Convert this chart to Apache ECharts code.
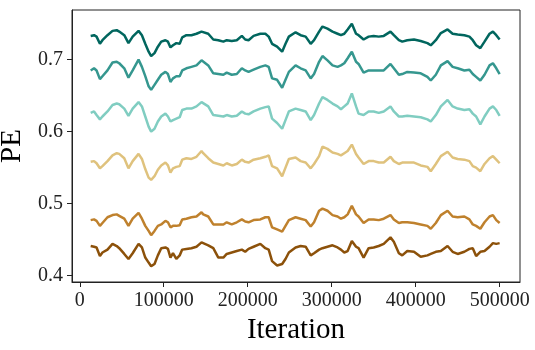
<!DOCTYPE html>
<html>
<head>
<meta charset="utf-8">
<script src="https://cdn.jsdelivr.net/npm/echarts@6/dist/echarts.min.js"></script>
<style>
  html, body { margin: 0; padding: 0; background: #fff; }
  #chart { width: 535px; height: 350px; }
</style>
</head>
<body>
<div id="chart"></div>
<script>
// iteration positions (shared by all traces)
const iterations = [
  13000, 17000, 20000, 24000, 27000, 33000, 39000, 44000, 47000, 53000,
  58000, 63000, 70000, 74000, 78000, 82000, 85000, 89000, 93000, 97000,
  102000, 105000, 108000, 111000, 115000, 119000, 122000, 127000, 133000, 139000,
  145000, 147000, 153000, 159000, 165000, 171000, 175000, 181000, 187000, 193000,
  197000, 201000, 207000, 215000, 221000, 225000, 229000, 235000, 241000, 245000,
  249000,
  257000, 263000, 269000, 275000, 279000, 285000, 289000, 295000, 301000, 307000,
  311000, 315000, 319000, 324000, 329000, 332000, 338000, 344000, 350000, 356000,
  362000, 370000, 374000, 380000, 384000, 390000, 398000, 406000, 414000, 418000,
  424000, 430000, 438000, 444000, 450000, 458000, 464000, 468000, 472000, 477000,
  482000, 488000, 492000, 496000, 500000
];

const pe1 = [
  0.733, 0.734, 0.732, 0.722, 0.727, 0.734, 0.740, 0.741, 0.739, 0.734,
  0.723, 0.732, 0.740, 0.734, 0.722, 0.711, 0.705, 0.709, 0.718, 0.725,
  0.727, 0.725, 0.717, 0.720, 0.723, 0.722, 0.731, 0.734, 0.734, 0.736,
  0.739, 0.741, 0.736, 0.728, 0.727, 0.725, 0.727, 0.726, 0.727, 0.733,
  0.728, 0.727, 0.733, 0.736, 0.736, 0.732, 0.722, 0.718, 0.711, 0.722,
  0.732,
  0.738, 0.734, 0.732, 0.722, 0.727, 0.739, 0.746, 0.743, 0.739, 0.736,
  0.734, 0.736, 0.742, 0.750, 0.736, 0.734, 0.728, 0.732, 0.733, 0.732,
  0.733, 0.739, 0.734, 0.727, 0.725, 0.727, 0.728, 0.726, 0.723, 0.720,
  0.727, 0.737, 0.742, 0.736, 0.735, 0.734, 0.732, 0.727, 0.720, 0.716,
  0.725, 0.736, 0.739, 0.734, 0.728
];

const pe2 = [
  0.685, 0.688, 0.685, 0.673, 0.677, 0.685, 0.696, 0.697, 0.695, 0.688,
  0.675, 0.685, 0.700, 0.690, 0.677, 0.663, 0.658, 0.665, 0.672, 0.679,
  0.683, 0.680, 0.669, 0.674, 0.677, 0.677, 0.685, 0.688, 0.690, 0.692,
  0.699, 0.697, 0.692, 0.681, 0.680, 0.679, 0.682, 0.679, 0.680, 0.688,
  0.685, 0.683, 0.686, 0.690, 0.692, 0.690, 0.674, 0.672, 0.661, 0.672,
  0.683,
  0.692, 0.688, 0.685, 0.674, 0.680, 0.697, 0.705, 0.699, 0.692, 0.690,
  0.692, 0.695, 0.702, 0.711, 0.697, 0.694, 0.682, 0.685, 0.685, 0.685,
  0.685, 0.694, 0.688, 0.679, 0.680, 0.683, 0.682, 0.681, 0.676, 0.671,
  0.679, 0.692, 0.698, 0.690, 0.688, 0.685, 0.686, 0.680, 0.676, 0.671,
  0.679, 0.692, 0.695, 0.688, 0.680
];

const pe3 = [
  0.626, 0.628, 0.623, 0.617, 0.621, 0.628, 0.637, 0.639, 0.638, 0.632,
  0.622, 0.632, 0.641, 0.635, 0.621, 0.607, 0.600, 0.604, 0.614, 0.621,
  0.625, 0.621, 0.614, 0.616, 0.618, 0.620, 0.630, 0.632, 0.632, 0.635,
  0.641, 0.639, 0.635, 0.623, 0.622, 0.621, 0.623, 0.621, 0.622, 0.628,
  0.625, 0.624, 0.628, 0.632, 0.634, 0.635, 0.618, 0.612, 0.604, 0.616,
  0.628,
  0.632, 0.630, 0.628, 0.616, 0.623, 0.639, 0.648, 0.644, 0.639, 0.635,
  0.631, 0.635, 0.639, 0.653, 0.635, 0.625, 0.623, 0.628, 0.628, 0.626,
  0.628, 0.635, 0.628, 0.621, 0.621, 0.622, 0.621, 0.620, 0.617, 0.614,
  0.623, 0.635, 0.644, 0.635, 0.632, 0.630, 0.631, 0.625, 0.621, 0.610,
  0.621, 0.632, 0.635, 0.630, 0.622
];

const pe4 = [
  0.558, 0.559, 0.556, 0.549, 0.552, 0.559, 0.567, 0.570, 0.569, 0.563,
  0.549, 0.559, 0.569, 0.562, 0.548, 0.536, 0.533, 0.538, 0.547, 0.553,
  0.557, 0.553, 0.543, 0.549, 0.551, 0.552, 0.561, 0.563, 0.562, 0.565,
  0.573, 0.570, 0.563, 0.557, 0.555, 0.553, 0.556, 0.553, 0.555, 0.561,
  0.558, 0.557, 0.561, 0.563, 0.565, 0.567, 0.552, 0.549, 0.538, 0.550,
  0.562,
  0.564, 0.559, 0.557, 0.549, 0.555, 0.566, 0.579, 0.576, 0.571, 0.569,
  0.567, 0.570, 0.573, 0.582, 0.569, 0.564, 0.555, 0.559, 0.559, 0.557,
  0.557, 0.565, 0.559, 0.555, 0.557, 0.557, 0.557, 0.553, 0.551, 0.545,
  0.555, 0.566, 0.572, 0.564, 0.562, 0.561, 0.559, 0.552, 0.550, 0.545,
  0.555, 0.563, 0.566, 0.561, 0.556
];

const pe5 = [
  0.477, 0.478, 0.476, 0.469, 0.473, 0.481, 0.484, 0.485, 0.483, 0.479,
  0.469, 0.479, 0.487, 0.479, 0.469, 0.462, 0.456, 0.462, 0.469, 0.471,
  0.476, 0.474, 0.467, 0.469, 0.469, 0.470, 0.478, 0.479, 0.481, 0.482,
  0.488, 0.485, 0.482, 0.471, 0.471, 0.471, 0.474, 0.471, 0.474, 0.478,
  0.475, 0.474, 0.477, 0.478, 0.481, 0.481, 0.467, 0.464, 0.461, 0.469,
  0.477,
  0.481, 0.479, 0.477, 0.468, 0.474, 0.490, 0.493, 0.490, 0.484, 0.482,
  0.479, 0.481, 0.485, 0.497, 0.485, 0.482, 0.473, 0.478, 0.478, 0.477,
  0.479, 0.484, 0.478, 0.473, 0.474, 0.474, 0.473, 0.471, 0.469, 0.465,
  0.473, 0.484, 0.490, 0.482, 0.481, 0.482, 0.478, 0.471, 0.469, 0.465,
  0.474, 0.482, 0.484, 0.477, 0.473
];

const pe6 = [
  0.441, 0.440, 0.439, 0.427, 0.432, 0.436, 0.444, 0.441, 0.438, 0.430,
  0.423, 0.431, 0.444, 0.439, 0.425, 0.418, 0.413, 0.416, 0.428, 0.438,
  0.439, 0.437, 0.425, 0.431, 0.423, 0.428, 0.436, 0.437, 0.438, 0.440,
  0.446, 0.444, 0.442, 0.438, 0.425, 0.425, 0.430, 0.432, 0.434, 0.436,
  0.433, 0.437, 0.440, 0.444, 0.438, 0.436, 0.420, 0.414, 0.416, 0.423,
  0.432,
  0.439, 0.441, 0.440, 0.428, 0.431, 0.436, 0.438, 0.440, 0.442, 0.439,
  0.436, 0.432, 0.434, 0.448, 0.440, 0.438, 0.425, 0.438, 0.439, 0.441,
  0.444, 0.453, 0.447, 0.431, 0.428, 0.434, 0.433, 0.426, 0.428, 0.430,
  0.433, 0.434, 0.441, 0.433, 0.430, 0.433, 0.437, 0.438, 0.427, 0.433,
  0.434, 0.440, 0.445, 0.444, 0.445
];

const xTicks = [0, 100000, 200000, 300000, 400000, 500000];
const yTicks = [0.4, 0.5, 0.6, 0.7];

const traces = [pe1, pe2, pe3, pe4, pe5, pe6];
const colors = ['#01665e', '#35978f', '#80cdc1', '#dfc27d', '#bf812d', '#8c510a'];

const FONT = 'Liberation Serif';

const chart = echarts.init(document.getElementById('chart'), null, { renderer: 'canvas' });

chart.setOption({
  animation: false,
  grid: {
    left: 72, right: 15, top: 10, bottom: 68,
    show: true, borderColor: '#222', borderWidth: 1,
    outerBoundsMode: 'none'
  },
  xAxis: {
    type: 'value',
    min: -9250,
    max: 524250,
    name: 'Iteration',
    nameLocation: 'middle',
    nameGap: 32,
    nameTextStyle: { fontFamily: FONT, fontSize: 29, color: '#000' },
    axisLine: { show: true, onZero: false, lineStyle: { color: '#222', width: 1 } },
    axisTick: { show: true, length: 5, customValues: xTicks, lineStyle: { color: '#222' } },
    axisLabel: {
      customValues: xTicks,
      formatter: v => String(v),
      fontFamily: FONT, fontSize: 20, color: '#222', margin: 9
    },
    splitLine: { show: false }
  },
  yAxis: {
    type: 'value',
    min: 0.391,
    max: 0.769,
    name: 'PE',
    nameLocation: 'middle',
    nameGap: 42,
    nameTextStyle: { fontFamily: FONT, fontSize: 29, color: '#000' },
    axisLine: { show: true, onZero: false, lineStyle: { color: '#222', width: 1 } },
    axisTick: { show: true, length: 5, customValues: yTicks, lineStyle: { color: '#222' } },
    axisLabel: {
      customValues: yTicks,
      formatter: v => v.toFixed(1),
      fontFamily: FONT, fontSize: 20, color: '#222', margin: 9
    },
    splitLine: { show: false }
  },
  series: traces.map((vals, i) => ({
    type: 'line',
    data: iterations.map((it, j) => [it, vals[j]]),
    showSymbol: false,
    lineStyle: { color: colors[i], width: 2.5 },
    itemStyle: { color: colors[i] }
  }))
});
</script>
</body>
</html>
